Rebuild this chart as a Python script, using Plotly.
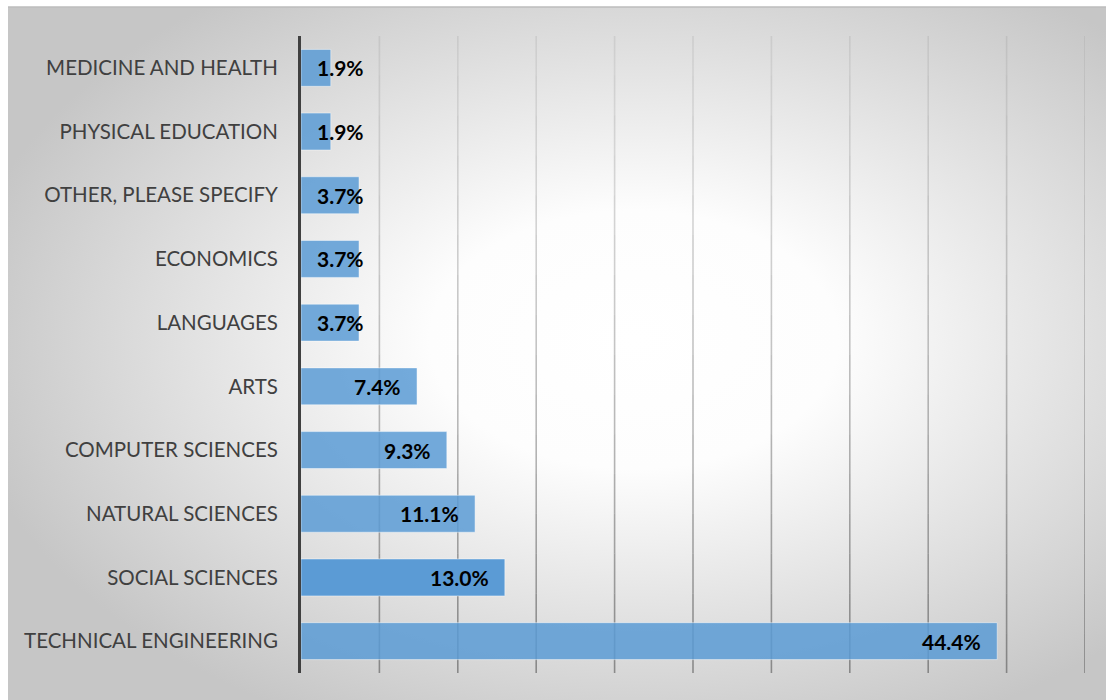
import base64
import plotly.graph_objects as go

# Share of respondents by field of study (%)
fields = [
    "TECHNICAL ENGINEERING",
    "SOCIAL SCIENCES",
    "NATURAL SCIENCES",
    "COMPUTER SCIENCES",
    "ARTS",
    "LANGUAGES",
    "ECONOMICS",
    "OTHER, PLEASE SPECIFY",
    "PHYSICAL EDUCATION",
    "MEDICINE AND HEALTH",
]
shares = [44.4, 13.0, 11.1, 9.3, 7.4, 3.7, 3.7, 3.7, 1.9, 1.9]
highlight = "SOCIAL SCIENCES"

W, H = 1106, 700
ML, MR, MT, MB = 301, 21, 36, 27
PW, PH = W - ML - MR, H - MT - MB
X_MAX = 50
GRID_STEP = 5
px_per_unit = PW / X_MAX

bar_colors = [
    "rgba(91,155,213,1.0)" if f == highlight else "rgba(91,155,213,0.85)"
    for f in fields
]

# radial grey-to-white backdrop
svg = f"""<svg xmlns='http://www.w3.org/2000/svg' width='{W}' height='{H}' viewBox='0 0 {W} {H}' preserveAspectRatio='none'>
<defs><radialGradient id='g' cx='0.57' cy='0.48' r='0.62' gradientUnits='objectBoundingBox'>
<stop offset='0' stop-color='#ffffff'/>
<stop offset='0.3' stop-color='#fdfdfd'/>
<stop offset='1' stop-color='#c6c6c6'/>
</radialGradient></defs>
<rect x='0' y='0' width='{W}' height='{H}' fill='url(#g)'/>
</svg>"""
bg_src = "data:image/svg+xml;base64," + base64.b64encode(svg.encode()).decode()

fig = go.Figure()
fig.add_trace(go.Bar(
    y=fields,
    x=shares,
    orientation="h",
    width=0.58,
    marker=dict(color=bar_colors, line=dict(color="rgba(255,255,255,0.45)", width=1)),
    hoverinfo="x+y",
))

# value labels at the inner end of each bar (left-aligned when the bar is too short)
label_font = dict(family="Lato, Open Sans, sans-serif", size=21, color="#000000")
for f, v in zip(fields, shares):
    fits = v * px_per_unit >= 85
    fig.add_annotation(
        x=v if fits else 0, y=f, xref="x", yref="y",
        text=f"<b>{v:.1f}%</b>", showarrow=False,
        xanchor="right" if fits else "left",
        xshift=-14 if fits else 14,
        font=label_font,
    )

# vertical gridlines, fading toward the top
shapes = []
n_seg = 16
for k in range(1, X_MAX // GRID_STEP + 1):
    gx = k * GRID_STEP
    for s in range(n_seg):
        y0 = s / n_seg
        y1 = (s + 1) / n_seg
        op = 0.62 - 0.5 * (s / (n_seg - 1))
        shapes.append(dict(
            type="line", xref="x", yref="y domain",
            x0=gx, x1=gx, y0=y0, y1=y1,
            line=dict(color=f"rgba(90,90,90,{op:.3f})", width=1.6),
            layer="below",
        ))
# frame edge along the top (paper coordinates are relative to the plot area)
top_edge = 1 + (MT - 7) / PH
shapes.append(dict(type="line", xref="paper", yref="paper",
                   x0=(8 - ML) / PW, x1=1 + MR / PW, y0=top_edge, y1=top_edge,
                   line=dict(color="#bdbdbd", width=1.5), layer="below"))

fig.update_layout(
    width=W, height=H,
    margin=dict(l=ML, r=MR, t=MT, b=MB, pad=0),
    paper_bgcolor="#ffffff",
    plot_bgcolor="rgba(0,0,0,0)",
    showlegend=False,
    bargap=0.4,
    shapes=shapes,
    images=[dict(
        source=bg_src, xref="paper", yref="paper",
        x=(8 - ML) / PW, y=top_edge,
        sizex=(W - 8) / PW, sizey=(H - 7) / PH,
        xanchor="left", yanchor="top", sizing="stretch", layer="below",
    )],
    xaxis=dict(
        range=[0, X_MAX], showgrid=False, showticklabels=False,
        zeroline=False, showline=False, ticks="",
    ),
    yaxis=dict(
        categoryorder="array", categoryarray=fields,
        showgrid=False, zeroline=False,
        showline=True, linecolor="#404040", linewidth=3,
        ticks="", ticklabelstandoff=16,
        tickfont=dict(family="Lato, Open Sans, sans-serif", size=20.5, color="#404040"),
    ),
)

fig.write_html("out.html")
